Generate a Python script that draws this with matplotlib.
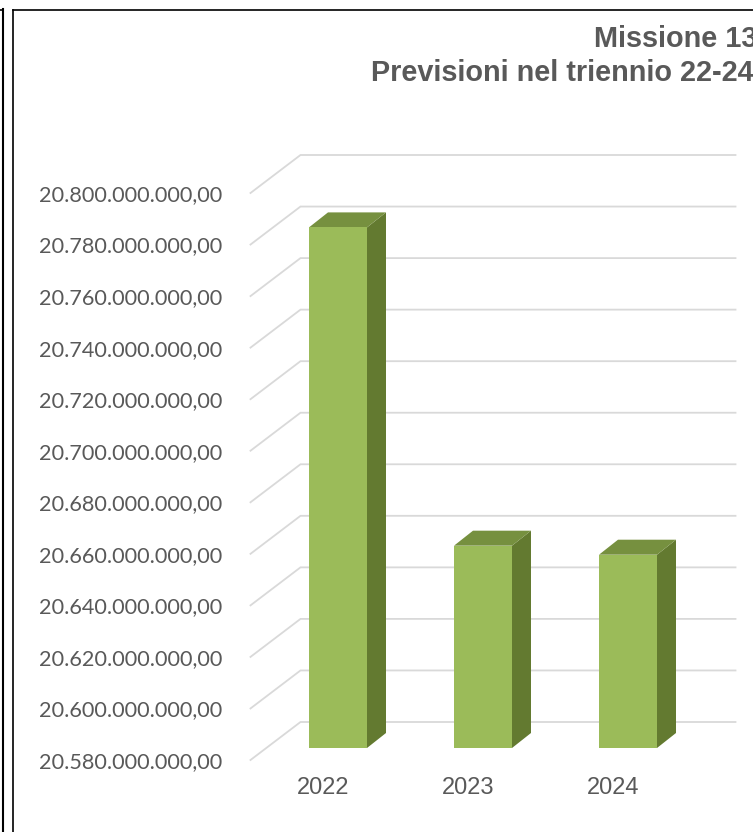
import matplotlib
matplotlib.use("Agg")
import matplotlib.pyplot as plt
from matplotlib.lines import Line2D

years = ["2022", "2023", "2024"]
values = [20782000000, 20658500000, 20655000000]
ticks = [20580000000 + 20000000 * i for i in range(12)]
tick_labels = ["20.580.000.000,00", "20.600.000.000,00", "20.620.000.000,00", "20.640.000.000,00",
               "20.660.000.000,00", "20.680.000.000,00", "20.700.000.000,00", "20.720.000.000,00",
               "20.740.000.000,00", "20.760.000.000,00", "20.780.000.000,00", "20.800.000.000,00"]
title_lines = ["Missione 13", "Previsioni nel triennio 22-24"]

W, H = 753, 832
TEXT = "#595959"

fig = plt.figure(figsize=(W / 100, H / 100), dpi=100)
ax = fig.add_axes([250.5 / W, 1 - 760 / H, 435 / W, 567 / H])
ax.set_xlim(-0.5, 2.5)
ax.set_ylim(ticks[0], ticks[-1])
ax.patch.set_alpha(0)
for s in ax.spines.values():
	s.set_visible(False)

# pixel offsets -> data units, the 3D look is faked with these
px_x = 3 / 435
px_y = (ticks[-1] - ticks[0]) / 567

def shifted(x, y, dx, dy):
	return x + dx * px_x, y + dy * px_y

# floor/back wall lines, going from the front edge to the back plane
for t in ticks:
	x1, y1 = shifted(-0.5, t, 50, 38)
	x2, y2 = shifted(2.5, t, 50, 38)
	ax.plot([-0.5, x1, x2], [t, y1, y2], color="#d9d9d9", lw=1.3, clip_on=False, zorder=1, solid_joinstyle="miter")

bar_w = 0.4
for i, v in enumerate(values):
	x0, y0 = shifted(i - bar_w / 2, ticks[0], 15, 12)
	x1 = x0 + bar_w
	y1 = v + 12 * px_y
	xb0, yb0 = shifted(x0, y0, 19, 15)
	xb1, yb1 = shifted(x1, y1, 19, 15)
	xt0 = x0 + 19 * px_x
	# side, top, front
	ax.fill([x1, xb1, xb1, x1], [y0, yb0, yb1, y1], color="#637a30", lw=0, clip_on=False, zorder=2)
	ax.fill([x0, x1, xb1, xt0], [y1, y1, yb1, yb1], color="#76903f", lw=0, clip_on=False, zorder=2)
	ax.fill([x0, x1, x1, x0], [y0, y0, y1, y1], color="#9bbb59", lw=0, clip_on=False, zorder=3)

ax.set_yticks(ticks)
ax.set_yticklabels(tick_labels, fontfamily="Lato", fontsize=15.6, color=TEXT)
ax.set_xticks(range(3))
ax.set_xticklabels(years, fontfamily="Liberation Sans", fontsize=17, color=TEXT)
ax.tick_params(axis="y", length=0, pad=20)
ax.tick_params(axis="x", length=0, pad=12.5)

# title runs off the right edge in the original
fig.text(594 / W, 1 - 39 / H, title_lines[0], fontfamily="Liberation Sans", fontweight="bold",
         fontsize=20.8, color=TEXT, va="center", ha="left")
fig.text(371 / W, 1 - 73 / H, title_lines[1], fontfamily="Liberation Sans", fontweight="bold",
         fontsize=20.8, color=TEXT, va="center", ha="left")

# page frame around the chart
def frame(xs, ys, color="black", lw=1.2):
	fig.add_artist(Line2D([x / W for x in xs], [1 - y / H for y in ys], color=color, lw=lw))

frame([3, 3], [9, 832], lw=1.5)
frame([0, 3], [9.5, 9.5], lw=1.2)
frame([12.5, 12.5], [9.5, 832], lw=1.2)
frame([12.5, 753], [9.5, 9.5], lw=1.2)

fig.savefig("out.png", dpi=100)
